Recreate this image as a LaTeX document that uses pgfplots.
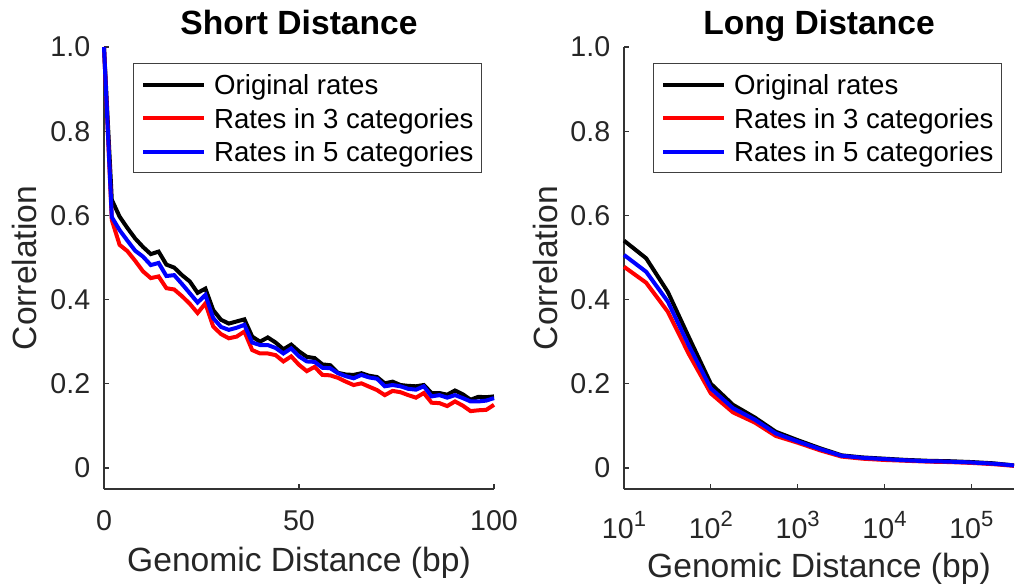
\documentclass[border=0pt]{standalone}
\usepackage{fontspec}
\setmainfont{Liberation Sans}
\usepackage{pgfplots}
\usepackage{pgfplotstable}
\pgfplotsset{compat=1.18}

\pgfplotstableread{
x k r b
0 1.000 1.000 1.000
2 0.637 0.589 0.596
4 0.597 0.530 0.565
6 0.570 0.515 0.540
8 0.545 0.492 0.516
10 0.525 0.467 0.502
12 0.508 0.451 0.482
14 0.514 0.455 0.487
16 0.483 0.427 0.456
18 0.476 0.424 0.458
20 0.458 0.408 0.437
22 0.443 0.390 0.415
24 0.416 0.368 0.393
26 0.426 0.391 0.411
28 0.375 0.336 0.356
30 0.352 0.318 0.335
32 0.343 0.308 0.328
34 0.348 0.312 0.333
36 0.353 0.324 0.340
38 0.312 0.280 0.298
40 0.300 0.272 0.292
42 0.310 0.272 0.292
44 0.298 0.268 0.285
46 0.282 0.253 0.272
48 0.293 0.265 0.284
50 0.277 0.245 0.265
52 0.264 0.230 0.253
54 0.261 0.240 0.252
56 0.246 0.221 0.238
58 0.244 0.220 0.237
60 0.226 0.214 0.225
62 0.222 0.205 0.218
64 0.221 0.197 0.213
66 0.225 0.201 0.221
68 0.219 0.193 0.215
70 0.216 0.185 0.212
72 0.201 0.173 0.194
74 0.205 0.183 0.197
76 0.197 0.180 0.194
78 0.195 0.173 0.188
80 0.194 0.167 0.186
82 0.197 0.178 0.194
84 0.178 0.155 0.170
86 0.178 0.154 0.173
88 0.174 0.147 0.167
90 0.184 0.158 0.173
92 0.175 0.148 0.166
94 0.162 0.135 0.158
96 0.169 0.137 0.158
98 0.168 0.138 0.160
100 0.170 0.150 0.166
}\shortdata

\pgfplotstableread{
x k r b
10 0.540 0.478 0.506
18 0.498 0.440 0.466
32 0.418 0.371 0.395
56 0.310 0.270 0.290
100 0.200 0.177 0.189
180 0.150 0.132 0.142
320 0.120 0.108 0.115
560 0.086 0.076 0.082
1000 0.066 0.060 0.063
1800 0.047 0.042 0.045
3200 0.030 0.027 0.029
5600 0.025 0.022 0.024
10000 0.022 0.019 0.021
18000 0.019 0.017 0.018
32000 0.017 0.015 0.016
56000 0.016 0.014 0.015
100000 0.014 0.012 0.013
180000 0.011 0.009 0.010
310000 0.006 0.005 0.006
}\longdata

\newcommand\tp[1]{10\raisebox{5.8bp}{\fontsize{11bp}{11bp}\selectfont #1}}

\pgfplotsset{mystyle/.style={
  scale only axis, width=195bp, height=221bp,
  axis x line*=bottom, axis y line*=left,
  axis line style={black!80, line width=0.6bp},
  tick align=inside, major tick length=2.5bp,
  tick style={black!80, line width=0.6bp},
  ymin=-0.05, ymax=1,
  ytick={0,0.2,0.4,0.6,0.8,1.0},
  yticklabels={0,0.2,0.4,0.6,0.8,1.0},
  tick label style={font=\fontsize{14.3bp}{16bp}\selectfont, text=black!85, inner sep=0pt},
  yticklabel style={anchor=east, xshift=-6.7bp},
  ylabel={Correlation},
  ylabel style={at={(axis description cs:-0.1718,0.5)}, anchor=base,
    font=\fontsize{16.8bp}{19bp}\selectfont, text=black!85, inner sep=0pt},
  xlabel={Genomic Distance (bp)},
  xlabel style={at={(axis description cs:0.5,0)}, anchor=base,
    font=\fontsize{16.8bp}{19bp}\selectfont, text=black!85, inner sep=0pt},
  title style={at={(axis description cs:0.5,1)}, anchor=base, yshift=0.5bp,
    font=\bfseries\fontsize{16.8bp}{19bp}\selectfont, inner sep=0pt},
  legend style={at={(axis description cs:1,1)}, anchor=north east, xshift=-6bp, yshift=-8bp,
    draw=black!75, line width=0.5bp, font=\fontsize{13.8bp}{15bp}\selectfont,
    inner xsep=4bp, inner ysep=2.25bp,
    nodes={inner sep=0pt, text height=13.5bp, text depth=3.25bp},
    row sep=0pt,
    /tikz/every odd column/.append style={column sep=4bp}},
  legend cell align=left,
  legend image code/.code={\draw[#1] (0bp,0bp) -- (30.5bp,0bp);},
  clip=false,
}}

\begin{document}
\begin{tikzpicture}
\begin{axis}[mystyle, at={(52bp,48.5bp)}, anchor=south west,
  xmin=0, xmax=100, xtick={0,50,100}, xticklabels={0,50,100},
  xticklabel style={anchor=base, yshift=-20.5bp},
  xlabel style={yshift=-41.25bp},
  title={Short Distance}]
\addplot[black, line width=2bp] table[x=x, y=k] {\shortdata};
\addplot[red, line width=2bp] table[x=x, y=r] {\shortdata};
\addplot[blue, line width=2bp] table[x=x, y=b] {\shortdata};
\legend{Original rates, Rates in 3 categories, Rates in 5 categories}
\end{axis}
\begin{axis}[mystyle, at={(312bp,48.5bp)}, anchor=south west,
  xmode=log, xmin=10, xmax=310000,
  xtick={10,100,1000,10000,100000},
  xticklabels={\tp{1},\tp{2},\tp{3},\tp{4},\tp{5}},
  xminorticks=false,
  xticklabel style={anchor=base, yshift=-24.5bp},
  xlabel style={yshift=-44bp},
  title={Long Distance}]
\addplot[black, line width=2bp] table[x=x, y=k] {\longdata};
\addplot[red, line width=2bp] table[x=x, y=r] {\longdata};
\addplot[blue, line width=2bp] table[x=x, y=b] {\longdata};
\legend{Original rates, Rates in 3 categories, Rates in 5 categories}
\end{axis}
\pgfresetboundingbox
\path[use as bounding box] (0,0) rectangle (512bp,293bp);
\end{tikzpicture}
\end{document}
